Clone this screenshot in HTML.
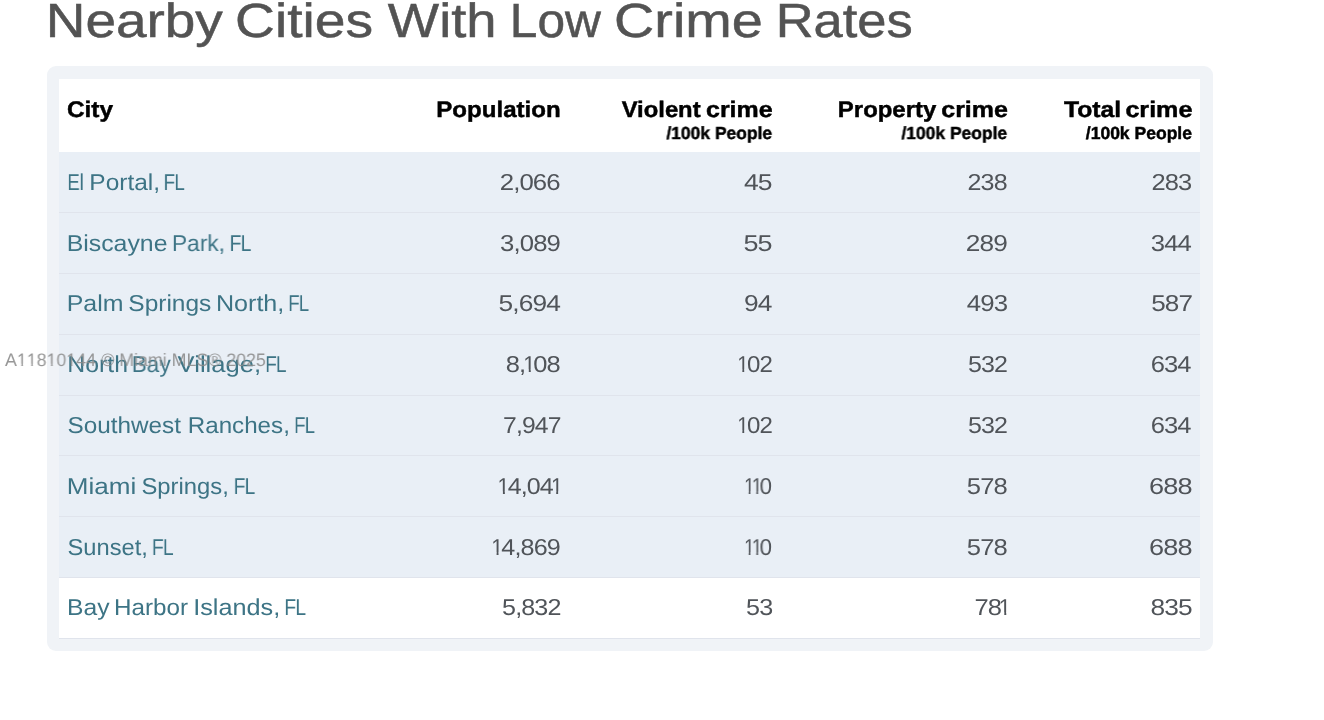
<!DOCTYPE html>
<html><head><meta charset="utf-8"><title>Nearby Cities With Low Crime Rates</title>
<style>
html,body{margin:0;padding:0;background:#fff;}
body{width:1324px;height:720px;overflow:hidden;position:relative;font-family:"Liberation Sans",Arial,sans-serif;}
.t{position:absolute;white-space:nowrap;line-height:1;text-rendering:geometricPrecision;will-change:transform;}
.b{position:absolute;}
.o{display:inline-block;transform:scaleX(.85);margin:0 -2.35px 0 -2.54px;clip-path:polygon(0 0,100% 0,100% 16.4px,7.85px 16.4px,7.85px 100%,5.75px 100%,5.75px 16.4px,0 16.4px);}
.w1{display:inline-block;clip-path:polygon(0 0,100% 0,100% 12.8px,6.15px 12.8px,6.15px 100%,4.5px 100%,4.5px 12.8px,0 12.8px);}
</style></head><body>
<div class="b" style="left:47px;top:66px;width:1166px;height:585px;background:#f0f3f7;border-radius:9px;"></div>
<div class="b" style="left:59px;top:79px;width:1141px;height:73px;background:#ffffff;"></div>
<div class="b" style="left:59px;top:152px;width:1141px;height:425px;background:#e9eff6;"></div>
<div class="b" style="left:59px;top:577px;width:1141px;height:61px;background:#ffffff;"></div>
<div class="b" style="left:59px;top:212px;width:1141px;height:1px;background:#e0e4ec;"></div>
<div class="b" style="left:59px;top:273px;width:1141px;height:1px;background:#e0e4ec;"></div>
<div class="b" style="left:59px;top:334px;width:1141px;height:1px;background:#e0e4ec;"></div>
<div class="b" style="left:59px;top:395px;width:1141px;height:1px;background:#e0e4ec;"></div>
<div class="b" style="left:59px;top:455px;width:1141px;height:1px;background:#e0e4ec;"></div>
<div class="b" style="left:59px;top:516px;width:1141px;height:1px;background:#e0e4ec;"></div>
<div class="b" style="left:59px;top:577px;width:1141px;height:1px;background:#e0e4ec;"></div>
<div class="b" style="left:59px;top:638px;width:1141px;height:1px;background:#e0e4ec;"></div>
<div class="t" style="left:45px;top:-2.00px;font-size:48px;font-weight:400;color:#535353;transform:translateX(0.74px) scaleX(1.1442);transform-origin:left 0;-webkit-text-stroke:0.5px #535353;">Nearby</div>
<div class="t" style="left:235px;top:-2.00px;font-size:48px;font-weight:400;color:#535353;transform:translateX(0.12px) scaleX(1.1502);transform-origin:left 0;-webkit-text-stroke:0.5px #535353;">Cities</div>
<div class="t" style="left:387px;top:-2.00px;font-size:48px;font-weight:400;color:#535353;transform:translateX(0.86px) scaleX(1.1326);transform-origin:left 0;-webkit-text-stroke:0.5px #535353;">With</div>
<div class="t" style="left:509px;top:-2.00px;font-size:48px;font-weight:400;color:#535353;transform:translateX(0.87px) scaleX(1.0339);transform-origin:left 0;-webkit-text-stroke:0.5px #535353;">Low</div>
<div class="t" style="left:614px;top:-2.00px;font-size:48px;font-weight:400;color:#535353;transform:translateX(0.08px) scaleX(1.1621);transform-origin:left 0;-webkit-text-stroke:0.5px #535353;">Crime</div>
<div class="t" style="left:775px;top:-2.00px;font-size:48px;font-weight:400;color:#535353;transform:translateX(0.65px) scaleX(1.0927);transform-origin:left 0;-webkit-text-stroke:0.5px #535353;">Rates</div>
<div class="t" style="left:66px;top:99.00px;font-size:22.5px;font-weight:700;color:#000000;transform:translateX(0.91px) scaleX(1.0833);transform-origin:left 0;-webkit-text-stroke:0.45px #000;">City</div>
<div class="t" style="right:764px;top:99.00px;font-size:22.5px;font-weight:700;color:#000000;transform:translateX(0.47px) scaleX(1.0702);transform-origin:right 0;-webkit-text-stroke:0.45px #000;">Population</div>
<div class="t" style="right:624px;top:99.00px;font-size:22.5px;font-weight:700;color:#000000;transform:translateX(0.99px) scaleX(1.0579);transform-origin:right 0;-webkit-text-stroke:0.45px #000;">Violent</div>
<div class="t" style="right:552px;top:99.00px;font-size:22.5px;font-weight:700;color:#000000;transform:translateX(0.55px) scaleX(1.1085);transform-origin:right 0;-webkit-text-stroke:0.45px #000;">crime</div>
<div class="t" style="right:388px;top:99.00px;font-size:22.5px;font-weight:700;color:#000000;transform:translateX(0.73px) scaleX(1.0635);transform-origin:right 0;-webkit-text-stroke:0.45px #000;">Property</div>
<div class="t" style="right:317px;top:99.00px;font-size:22.5px;font-weight:700;color:#000000;transform:translateX(0.82px) scaleX(1.1094);transform-origin:right 0;-webkit-text-stroke:0.45px #000;">crime</div>
<div class="t" style="right:203px;top:99.00px;font-size:22.5px;font-weight:700;color:#000000;transform:translateX(0.06px) scaleX(1.0992);transform-origin:right 0;-webkit-text-stroke:0.45px #000;">Total</div>
<div class="t" style="right:132px;top:99.00px;font-size:22.5px;font-weight:700;color:#000000;transform:translateX(0.39px) scaleX(1.1165);transform-origin:right 0;-webkit-text-stroke:0.45px #000;">crime</div>
<div class="t" style="right:552px;top:125.00px;font-size:17.5px;font-weight:700;color:#000000;transform:translateX(0.08px) scaleX(0.9969);transform-origin:right 0;-webkit-text-stroke:0.45px #000;">/100k People</div>
<div class="t" style="right:317px;top:125.00px;font-size:17.5px;font-weight:700;color:#000000;transform:translateX(0.12px) scaleX(0.9966);transform-origin:right 0;-webkit-text-stroke:0.45px #000;">/100k People</div>
<div class="t" style="right:133px;top:125.00px;font-size:17.5px;font-weight:700;color:#000000;transform:translateX(0.93px) scaleX(1.0016);transform-origin:right 0;-webkit-text-stroke:0.45px #000;">/100k People</div>
<div class="t" style="left:67px;top:171.00px;font-size:23px;font-weight:400;color:#3d7485;transform:translateX(0.32px) scaleX(0.8076);transform-origin:left 0;">El</div>
<div class="t" style="left:89px;top:171.00px;font-size:23px;font-weight:400;color:#3d7485;transform:translateX(0.36px) scaleX(1.0629);transform-origin:left 0;">Portal,</div>
<div class="t" style="left:163px;top:171.00px;font-size:23px;font-weight:400;color:#3d7485;transform:translateX(0.49px) scaleX(0.8284);transform-origin:left 0;letter-spacing:-1px;">FL</div>
<div class="t" style="right:764px;top:171.00px;font-size:23px;font-weight:400;color:#505459;transform:translateX(0.17px) scaleX(1.1208);transform-origin:right 0;letter-spacing:-0.8px;">2,066</div>
<div class="t" style="right:553px;top:171.00px;font-size:23px;font-weight:400;color:#505459;transform:translateX(0.67px) scaleX(1.1504);transform-origin:right 0;letter-spacing:-0.8px;">45</div>
<div class="t" style="right:318px;top:171.00px;font-size:23px;font-weight:400;color:#505459;transform:translateX(0.72px) scaleX(1.0876);transform-origin:right 0;letter-spacing:-0.8px;">238</div>
<div class="t" style="right:133px;top:171.00px;font-size:23px;font-weight:400;color:#505459;transform:translateX(0.30px) scaleX(1.1076);transform-origin:right 0;letter-spacing:-0.8px;">283</div>
<div class="t" style="left:66px;top:232.00px;font-size:23px;font-weight:400;color:#3d7485;transform:translateX(0.65px) scaleX(1.0809);transform-origin:left 0;">Biscayne</div>
<div class="t" style="left:171px;top:232.00px;font-size:23px;font-weight:400;color:#3d7485;transform:translateX(0.91px) scaleX(0.9891);transform-origin:left 0;">Park,</div>
<div class="t" style="left:229px;top:232.00px;font-size:23px;font-weight:400;color:#3d7485;transform:translateX(0.54px) scaleX(0.8465);transform-origin:left 0;letter-spacing:-1px;">FL</div>
<div class="t" style="right:764px;top:232.00px;font-size:23px;font-weight:400;color:#505459;transform:translateX(0.39px) scaleX(1.1173);transform-origin:right 0;letter-spacing:-0.8px;">3,089</div>
<div class="t" style="right:553px;top:232.00px;font-size:23px;font-weight:400;color:#505459;transform:translateX(0.69px) scaleX(1.1717);transform-origin:right 0;letter-spacing:-0.8px;">55</div>
<div class="t" style="right:318px;top:232.00px;font-size:23px;font-weight:400;color:#505459;transform:translateX(0.95px) scaleX(1.1416);transform-origin:right 0;letter-spacing:-0.8px;">289</div>
<div class="t" style="right:134px;top:232.00px;font-size:23px;font-weight:400;color:#505459;transform:translateX(0.98px) scaleX(1.1166);transform-origin:right 0;letter-spacing:-0.8px;">344</div>
<div class="t" style="left:66px;top:292.00px;font-size:23px;font-weight:400;color:#3d7485;transform:translateX(0.77px) scaleX(1.0818);transform-origin:left 0;">Palm</div>
<div class="t" style="left:128px;top:292.00px;font-size:23px;font-weight:400;color:#3d7485;transform:translateX(0.35px) scaleX(1.0640);transform-origin:left 0;">Springs</div>
<div class="t" style="left:215px;top:292.00px;font-size:23px;font-weight:400;color:#3d7485;transform:translateX(0.90px) scaleX(1.0922);transform-origin:left 0;">North,</div>
<div class="t" style="left:288px;top:292.00px;font-size:23px;font-weight:400;color:#3d7485;transform:translateX(0.15px) scaleX(0.8134);transform-origin:left 0;letter-spacing:-1px;">FL</div>
<div class="t" style="right:764px;top:292.00px;font-size:23px;font-weight:400;color:#505459;transform:translateX(0.33px) scaleX(1.1446);transform-origin:right 0;letter-spacing:-0.8px;">5,694</div>
<div class="t" style="right:553px;top:292.00px;font-size:23px;font-weight:400;color:#505459;transform:translateX(0.50px) scaleX(1.1450);transform-origin:right 0;letter-spacing:-0.8px;">94</div>
<div class="t" style="right:317px;top:292.00px;font-size:23px;font-weight:400;color:#505459;transform:translateX(0.14px) scaleX(1.1214);transform-origin:right 0;letter-spacing:-0.8px;">493</div>
<div class="t" style="right:132px;top:292.00px;font-size:23px;font-weight:400;color:#505459;transform:translateX(0.07px) scaleX(1.1352);transform-origin:right 0;letter-spacing:-0.8px;">587</div>
<div class="t" style="left:67px;top:353.00px;font-size:23px;font-weight:400;color:#3d7485;transform:translateX(0.26px) scaleX(1.0796);transform-origin:left 0;">North</div>
<div class="t" style="left:131px;top:353.00px;font-size:23px;font-weight:400;color:#3d7485;transform:translateX(0.67px) scaleX(0.9834);transform-origin:left 0;">Bay</div>
<div class="t" style="left:177px;top:353.00px;font-size:23px;font-weight:400;color:#3d7485;transform:translateX(0.57px) scaleX(1.1136);transform-origin:left 0;">Village,</div>
<div class="t" style="left:265px;top:353.00px;font-size:23px;font-weight:400;color:#3d7485;transform:translateX(0.18px) scaleX(0.8246);transform-origin:left 0;letter-spacing:-1px;">FL</div>
<div class="t" style="right:764px;top:353.00px;font-size:23px;font-weight:400;color:#505459;transform:translateX(0.01px) scaleX(1.1078);transform-origin:right 0;letter-spacing:-0.8px;">8,<span class="o">1</span>08</div>
<div class="t" style="right:553px;top:353.00px;font-size:23px;font-weight:400;color:#505459;transform:translateX(0.85px) scaleX(1.0456);transform-origin:right 0;letter-spacing:-0.8px;"><span class="o">1</span>02</div>
<div class="t" style="right:317px;top:353.00px;font-size:23px;font-weight:400;color:#505459;transform:translateX(0.02px) scaleX(1.0860);transform-origin:right 0;letter-spacing:-0.8px;">532</div>
<div class="t" style="right:134px;top:353.00px;font-size:23px;font-weight:400;color:#505459;transform:translateX(0.65px) scaleX(1.1116);transform-origin:right 0;letter-spacing:-0.8px;">634</div>
<div class="t" style="left:67px;top:414.00px;font-size:23px;font-weight:400;color:#3d7485;transform:translateX(0.53px) scaleX(1.0563);transform-origin:left 0;">Southwest</div>
<div class="t" style="left:187px;top:414.00px;font-size:23px;font-weight:400;color:#3d7485;transform:translateX(0.74px) scaleX(1.0511);transform-origin:left 0;">Ranches,</div>
<div class="t" style="left:294px;top:414.00px;font-size:23px;font-weight:400;color:#3d7485;transform:translateX(0.08px) scaleX(0.8115);transform-origin:left 0;letter-spacing:-1px;">FL</div>
<div class="t" style="right:763px;top:414.00px;font-size:23px;font-weight:400;color:#505459;transform:translateX(0.06px) scaleX(1.0745);transform-origin:right 0;letter-spacing:-0.8px;">7,947</div>
<div class="t" style="right:553px;top:414.00px;font-size:23px;font-weight:400;color:#505459;transform:translateX(0.85px) scaleX(1.0456);transform-origin:right 0;letter-spacing:-0.8px;"><span class="o">1</span>02</div>
<div class="t" style="right:317px;top:414.00px;font-size:23px;font-weight:400;color:#505459;transform:translateX(0.02px) scaleX(1.0860);transform-origin:right 0;letter-spacing:-0.8px;">532</div>
<div class="t" style="right:134px;top:414.00px;font-size:23px;font-weight:400;color:#505459;transform:translateX(0.65px) scaleX(1.1116);transform-origin:right 0;letter-spacing:-0.8px;">634</div>
<div class="t" style="left:66px;top:475.00px;font-size:23px;font-weight:400;color:#3d7485;transform:translateX(0.76px) scaleX(1.1324);transform-origin:left 0;">Miami</div>
<div class="t" style="left:141px;top:475.00px;font-size:23px;font-weight:400;color:#3d7485;transform:translateX(0.46px) scaleX(1.0348);transform-origin:left 0;">Springs,</div>
<div class="t" style="left:233px;top:475.00px;font-size:23px;font-weight:400;color:#3d7485;transform:translateX(0.66px) scaleX(0.8357);transform-origin:left 0;letter-spacing:-1px;">FL</div>
<div class="t" style="right:764px;top:475.00px;font-size:23px;font-weight:400;color:#505459;transform:translateX(0.76px) scaleX(1.0871);transform-origin:right 0;letter-spacing:-0.8px;"><span class="o">1</span>4,04<span class="o">1</span></div>
<div class="t" style="right:554px;top:475.00px;font-size:23px;font-weight:400;color:#505459;transform:translateX(0.97px) scaleX(0.9637);transform-origin:right 0;letter-spacing:-0.8px;"><span class="o">1</span><span class="o">1</span>0</div>
<div class="t" style="right:318px;top:475.00px;font-size:23px;font-weight:400;color:#505459;transform:translateX(0.90px) scaleX(1.1120);transform-origin:right 0;letter-spacing:-0.8px;">578</div>
<div class="t" style="right:133px;top:475.00px;font-size:23px;font-weight:400;color:#505459;transform:translateX(0.57px) scaleX(1.1804);transform-origin:right 0;letter-spacing:-0.8px;">688</div>
<div class="t" style="left:67px;top:536.00px;font-size:23px;font-weight:400;color:#3d7485;transform:translateX(0.51px) scaleX(1.0302);transform-origin:left 0;">Sunset,</div>
<div class="t" style="left:151px;top:536.00px;font-size:23px;font-weight:400;color:#3d7485;transform:translateX(0.82px) scaleX(0.8456);transform-origin:left 0;letter-spacing:-1px;">FL</div>
<div class="t" style="right:764px;top:536.00px;font-size:23px;font-weight:400;color:#505459;transform:translateX(0.19px) scaleX(1.0931);transform-origin:right 0;letter-spacing:-0.8px;"><span class="o">1</span>4,869</div>
<div class="t" style="right:554px;top:536.00px;font-size:23px;font-weight:400;color:#505459;transform:translateX(0.97px) scaleX(0.9637);transform-origin:right 0;letter-spacing:-0.8px;"><span class="o">1</span><span class="o">1</span>0</div>
<div class="t" style="right:318px;top:536.00px;font-size:23px;font-weight:400;color:#505459;transform:translateX(0.90px) scaleX(1.1120);transform-origin:right 0;letter-spacing:-0.8px;">578</div>
<div class="t" style="right:133px;top:536.00px;font-size:23px;font-weight:400;color:#505459;transform:translateX(0.57px) scaleX(1.1804);transform-origin:right 0;letter-spacing:-0.8px;">688</div>
<div class="t" style="left:66px;top:596.00px;font-size:23px;font-weight:400;color:#3d7485;transform:translateX(0.93px) scaleX(1.0734);transform-origin:left 0;">Bay</div>
<div class="t" style="left:114px;top:596.00px;font-size:23px;font-weight:400;color:#3d7485;transform:translateX(0.03px) scaleX(1.0523);transform-origin:left 0;">Harbor</div>
<div class="t" style="left:193px;top:596.00px;font-size:23px;font-weight:400;color:#3d7485;transform:translateX(0.20px) scaleX(1.0973);transform-origin:left 0;">Islands,</div>
<div class="t" style="left:284px;top:596.00px;font-size:23px;font-weight:400;color:#3d7485;transform:translateX(0.26px) scaleX(0.8470);transform-origin:left 0;letter-spacing:-1px;">FL</div>
<div class="t" style="right:764px;top:596.00px;font-size:23px;font-weight:400;color:#505459;transform:translateX(0.99px) scaleX(1.0918);transform-origin:right 0;letter-spacing:-0.8px;">5,832</div>
<div class="t" style="right:552px;top:596.00px;font-size:23px;font-weight:400;color:#505459;transform:translateX(0.30px) scaleX(1.0941);transform-origin:right 0;letter-spacing:-0.8px;">53</div>
<div class="t" style="right:316px;top:596.00px;font-size:23px;font-weight:400;color:#505459;transform:translateX(0.98px) scaleX(1.1103);transform-origin:right 0;letter-spacing:-0.8px;">78<span class="o">1</span></div>
<div class="t" style="right:133px;top:596.00px;font-size:23px;font-weight:400;color:#505459;transform:translateX(0.67px) scaleX(1.1448);transform-origin:right 0;letter-spacing:-0.8px;">835</div>
<div class="t" style="left:4px;top:351.00px;font-size:18px;font-weight:400;color:#8c8c8c;transform:translateX(0.98px) scaleX(0.9890);transform-origin:left 0;opacity:0.9;">A<span class="w1">1</span><span class="w1">1</span>8<span class="w1">1</span>0<span class="w1">1</span>44 &copy; Miami MLS&reg; 2025</div>
</body></html>
